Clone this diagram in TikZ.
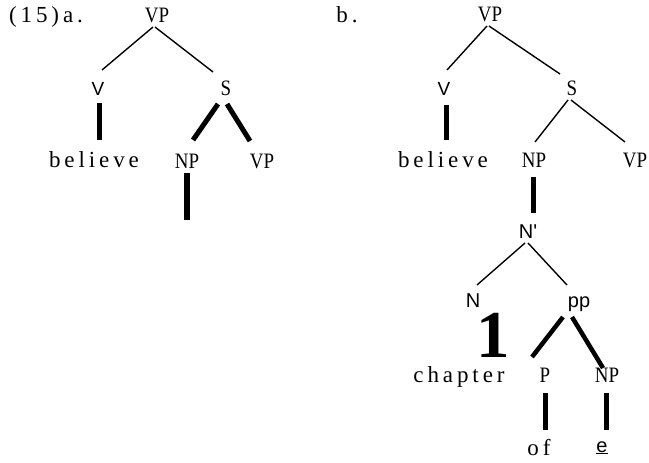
\documentclass[tikz,border=0pt]{standalone}
\usepackage{fontspec}
\setmainfont{Liberation Serif}
\setsansfont{Liberation Sans}
\newfontfamily\lspaced[LetterSpace=17]{Liberation Serif}
\newfontfamily\condserif[FakeStretch=0.86]{Liberation Serif}
\usetikzlibrary{calc}
\begin{document}
\begin{tikzpicture}[x=1pt,y=-1pt,
  lab/.style={anchor=base,inner sep=0pt,font=\fontsize{22}{22}\selectfont\condserif},
  slab/.style={anchor=base,inner sep=0pt,font=\fontsize{20}{20}\selectfont\sffamily},
  vlab/.style={anchor=base,inner sep=0pt,font=\fontsize{19}{19}\selectfont\sffamily},
  wlab/.style={anchor=base,inner sep=0pt,font=\fontsize{23}{23}\selectfont\lspaced},
  thinline/.style={line width=1.4pt},
  thickline/.style={line width=5pt}]
\useasboundingbox (0,0) rectangle (649,463);
% tree (15a)
\node[wlab] (lab15) at (46,23) {(15)a.};
\node[lab] (VPa) at (157,23) {VP};
\node[vlab] (Va) at (98,95) {V};
\node[lab] (Sa) at (226,95) {S};
\node[wlab] (believea) at (94,167) {believe};
\node[lab] (NPa) at (187,168) {NP};
\node[lab] (VPa2) at (262,168) {VP};
\coordinate (ca) at (186.5,220);
% tree (b)
\node[wlab] (labb) at (347,22) {b.};
\node[lab] (VPb) at (490,21) {VP};
\node[vlab] (Vb) at (444,95) {V};
\node[lab] (Sb) at (572,95) {S};
\node[wlab] (believeb) at (443,167) {believe};
\node[lab] (NPb) at (534,167) {NP};
\node[lab] (VPb2) at (635,167) {VP};
\node[slab] (Nbar) at (528,238) {N\textquotesingle};
\node[slab] (N) at (473,307) {N};
\node[slab] (pp) at (579,307) {pp};
\node[anchor=base,inner sep=0pt,font=\fontsize{67}{67}\selectfont\bfseries] (one) at (493,357) {1};
\node[wlab] (chapter) at (459,382) {chapter};
\node[lab] (P) at (545,382) {P};
\node[lab] (NP3) at (607,382) {NP};
\node[wlab] (of) at (539,455) {of};
\node[slab] (e) at (602,452) {\underline{e}};
% connectors (15a)
\draw[thinline] ($(VPa.base)+(-4,4)$) -- ($(Va.base)+(4,-25)$);
\draw[thinline] ($(VPa.base)+(-2,4)$) -- ($(Sa.base)+(-13,-23)$);
\draw[thickline] ($(Va.base)+(1.5,8)$) -- ($(believea.base)+(5.5,-27)$);
\draw[thickline] ($(Sa.base)+(-8,9)$) -- ($(NPa.base)+(6,-28)$);
\draw[thickline] ($(Sa.base)+(1,9)$) -- ($(VPa2.base)+(-12,-27)$);
\draw[line width=6pt] ($(NPa.base)+(-0.5,5)$) -- (ca);
% connectors (b)
\draw[thinline] ($(VPb.base)+(-3,5)$) -- ($(Vb.base)+(3,-25)$);
\draw[thinline] ($(VPb.base)+(-1,5)$) -- ($(Sb.base)+(-12,-21)$);
\draw[thickline] ($(Vb.base)+(2,10)$) -- ($(believeb.base)+(3,-27)$);
\draw[thinline] ($(Sb.base)+(-4,5)$) -- ($(NPb.base)+(1,-25)$);
\draw[thinline] ($(Sb.base)+(-1,5)$) -- ($(VPb2.base)+(-10,-25)$);
\draw[thickline] ($(NPb.base)+(-1,10)$) -- ($(Nbar.base)+(5,-25)$);
\draw[thinline] ($(Nbar.base)+(-3,5)$) -- ($(N.base)+(4,-22)$);
\draw[thinline] ($(Nbar.base)+(0,5)$) -- ($(pp.base)+(-12,-22)$);
\draw[line width=4.5pt] ($(pp.base)+(-16,10)$) -- ($(P.base)+(-13,-25)$);
\draw[line width=4.5pt] ($(pp.base)+(-7,10)$) -- ($(NP3.base)+(-4,-14)$);
\draw[thickline] ($(P.base)+(0,11)$) -- ($(of.base)+(6,-25)$);
\draw[thickline] ($(NP3.base)+(-1,11)$) -- ($(e.base)+(4,-22)$);
\end{tikzpicture}
\end{document}
